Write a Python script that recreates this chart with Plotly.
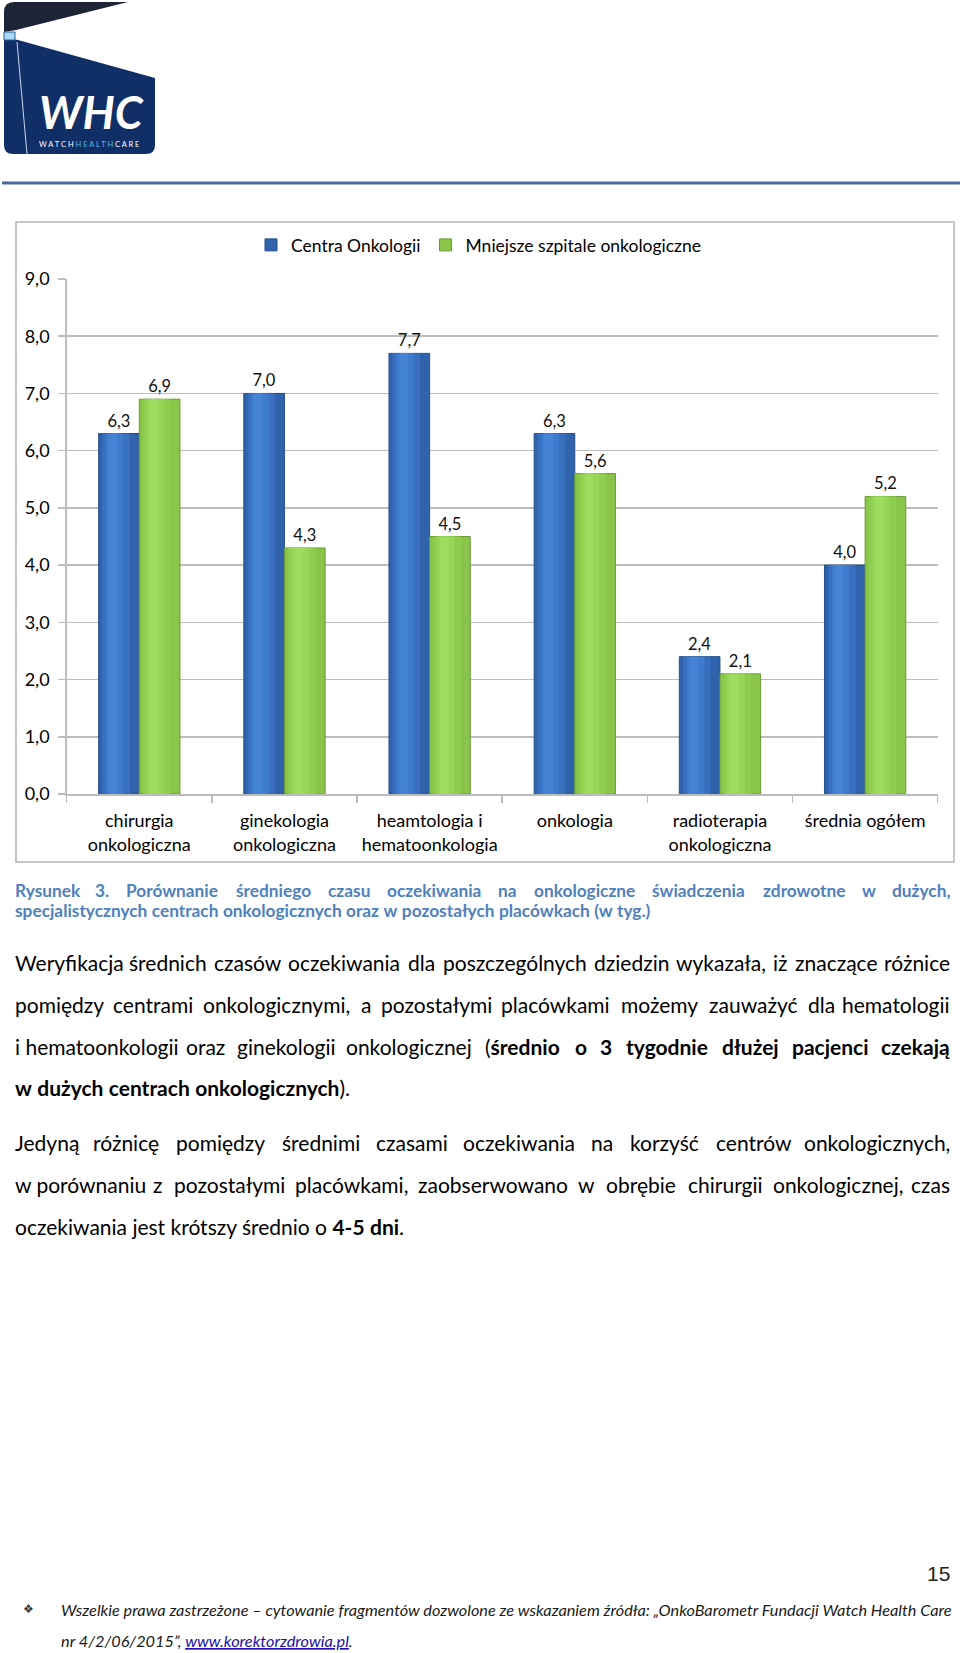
import plotly.graph_objects as go

# ---------------- data ----------------
categories = [
    "chirurgia<br>onkologiczna",
    "ginekologia<br>onkologiczna",
    "heamtologia i<br>hematoonkologia",
    "onkologia",
    "radioterapia<br>onkologiczna",
    "średnia ogółem",
]
series_names = ["Centra Onkologii", "Mniejsze szpitale onkologiczne"]
centra_onkologii = [6.3, 7.0, 7.7, 6.3, 2.4, 4.0]
mniejsze_szpitale = [6.9, 4.3, 4.5, 5.6, 2.1, 5.2]
y_tick_values = [0, 1, 2, 3, 4, 5, 6, 7, 8, 9]

caption_lines = [
    "Rysunek 3. Porównanie średniego czasu oczekiwania na onkologiczne świadczenia zdrowotne w dużych,",
    "specjalistycznych centrach onkologicznych oraz w pozostałych placówkach (w tyg.)",
]
# '*' toggles bold, '~' = non-stretching space; last line of a paragraph is not justified
paragraph1 = [
    "Weryfikacja średnich czasów oczekiwania dla poszczególnych dziedzin wykazała, iż znaczące różnice",
    "pomiędzy centrami onkologicznymi, a pozostałymi placówkami możemy zauważyć dla hematologii",
    "i~hematoonkologii oraz ginekologii onkologicznej (*średnio o 3 tygodnie dłużej pacjenci czekają*",
    "*w dużych centrach onkologicznych*).",
]
paragraph2 = [
    "Jedyną różnicę pomiędzy średnimi czasami oczekiwania na korzyść centrów onkologicznych,",
    "w~porównaniu z pozostałymi placówkami, zaobserwowano w obrębie chirurgii onkologicznej, czas",
    "oczekiwania jest krótszy średnio o *4-5 dni*.",
]
footer_line1 = "Wszelkie prawa zastrzeżone – cytowanie fragmentów dozwolone ze wskazaniem źródła: „OnkoBarometr Fundacji Watch Health Care"
footer_line2_a = "nr 4/2/06/2015”, "
footer_link = "www.korektorzdrowia.pl"
page_number = "15"

# ---------------- helpers ----------------
W, H = 960, 1653
FONT = "Lato"


def px(x):
    return x / W


def py(y):
    return 1 - y / H


def path(cmds):
    out = []
    for c in cmds:
        if c[0] == "Z":
            out.append("Z")
        else:
            s = c[0]
            pts = c[1:]
            for i in range(0, len(pts), 2):
                s += " %.5f,%.5f" % (px(pts[i]), py(pts[i + 1]))
            out.append(s)
    return " ".join(out)


WID = {
    'a': .48, 'b': .555, 'c': .46, 'd': .555, 'e': .515, 'f': .33, 'g': .50, 'h': .555,
    'i': .23, 'j': .235, 'k': .50, 'l': .23, 'm': .84, 'n': .555, 'o': .55, 'p': .555,
    'q': .555, 'r': .37, 's': .415, 't': .36, 'u': .555, 'v': .50, 'w': .75, 'x': .48,
    'y': .50, 'z': .44, ' ': .193, ',': .2, '.': .2, '(': .32, ')': .32, '-': .34,
    'ą': .48, 'ę': .515, 'ó': .55, 'ś': .415, 'ż': .44, 'ź': .44, 'ć': .46, 'ł': .25,
    'ń': .555, 'W': .99, 'J': .37, 'R': .6, 'P': .56, 'O': .77,
}


def tokenize(line):
    words = []
    bold = False
    for tok in line.split(" "):
        segs = []
        cur = ""
        for ch in tok:
            if ch == "*":
                if cur:
                    segs.append((cur, bold))
                cur = ""
                bold = not bold
            else:
                cur += " " if ch == "~" else ch
        if cur:
            segs.append((cur, bold))
        words.append(segs)
    return words


def seg_width(segs, size):
    tot = 0.0
    for t, b in segs:
        f = 1.06 if b else 1.0
        for ch in t:
            tot += WID.get(ch, 0.55 if ch.isdigit() else 0.5) * size * f
    return tot


def seg_html(segs):
    return "".join("<b>%s</b>" % t if b else t for t, b in segs)


annotations = []


def add_text(x, y, text, size, color="#000000", anchor="left", family=FONT, style="normal", weight="normal"):
    annotations.append(dict(
        x=px(x), y=py(y), xref="paper", yref="paper", text=text, showarrow=False,
        xanchor=anchor, yanchor="middle", align="left",
        font=dict(family=family, size=size, color=color, style=style, weight=weight),
    ))


def add_justified(line, y, size, color, x0=13, x1=952, all_bold=False):
    words = tokenize(line)
    if all_bold:
        words = [[(t, True) for t, _ in w] for w in words]
    widths = [seg_width(w, size) for w in words]
    gap = (x1 - x0 - sum(widths)) / (len(words) - 1)
    x = x0
    for i, (w, wd) in enumerate(zip(words, widths)):
        if i == 0:
            add_text(x0, y, seg_html(w), size, color, "left")
        elif i == len(words) - 1:
            add_text(x1, y, seg_html(w), size, color, "right")
        else:
            add_text(x + wd / 2, y, seg_html(w), size, color, "center")
        x += wd + gap


def add_plain(line, y, size, color, x0=13, all_bold=False):
    words = tokenize(line)
    if all_bold:
        words = [[(t, True) for t, _ in w] for w in words]
    add_text(x0, y, " ".join(seg_html(w) for w in words), size, color, "left")


# ---------------- figure ----------------
fig = go.Figure()

BW = 0.28
blue_layers = [("#3163ac", 0.0, BW), ("#386fbe", 0.025, 0.19), ("#3f7bcc", 0.05, 0.12), ("#4584d4", 0.07, 0.06)]
green_layers = [("#88c548", 0.0, BW), ("#8fcd4f", 0.025, 0.19), ("#96d557", 0.05, 0.12), ("#9edc5f", 0.07, 0.06)]

for i, (col, dx, w) in enumerate(blue_layers):
    fig.add_trace(go.Bar(
        x=categories, y=centra_onkologii, name=series_names[0],
        offset=-BW + dx, width=w, showlegend=(i == 0),
        marker=dict(color=col, line=dict(color="#24508f", width=1) if i == 0 else dict(width=0)),
        texttemplate="%{y:.1f}" if i == 0 else None,
        textposition="outside" if i == 0 else "none",
        textfont=dict(family=FONT, size=16.5, color="#111111"),
        constraintext="none", cliponaxis=False, hoverinfo="skip",
    ))
for i, (col, dx, w) in enumerate(green_layers):
    fig.add_trace(go.Bar(
        x=categories, y=mniejsze_szpitale, name=series_names[1],
        offset=0.0 + dx, width=w, showlegend=(i == 0),
        marker=dict(color=col, line=dict(color="#6a9a36", width=1) if i == 0 else dict(width=0)),
        texttemplate="%{y:.1f}" if i == 0 else None,
        textposition="outside" if i == 0 else "none",
        textfont=dict(family=FONT, size=16.5, color="#111111"),
        constraintext="none", cliponaxis=False, hoverinfo="skip",
    ))

GRID = "#bcbcbc"
fig.update_layout(
    width=W, height=H,
    margin=dict(l=0, r=0, t=0, b=0, pad=0, autoexpand=False),
    paper_bgcolor="white", plot_bgcolor="white",
    barmode="overlay",
    separators=", ",
    font=dict(family=FONT, color="#000000"),
    xaxis=dict(
        domain=[px(66.7), px(937.7)], type="category", automargin=False,
        showline=True, linecolor=GRID, linewidth=1.5, tickangle=0,
        ticks="outside", tickson="boundaries", ticklen=7, tickcolor=GRID, tickwidth=1.5,
        tickfont=dict(family=FONT, size=18, color="#000000"),
        ticklabelstandoff=10, showgrid=False, fixedrange=True,
    ),
    yaxis=dict(
        domain=[py(794), py(279)], range=[0, 9], tickvals=y_tick_values, tickformat=".1f",
        automargin=False,
        showline=True, linecolor=GRID, linewidth=1.5,
        ticks="outside", ticklen=7, tickcolor=GRID, tickwidth=1.5,
        showgrid=True, gridcolor=GRID, gridwidth=1.5, zeroline=False,
        tickfont=dict(family=FONT, size=18, color="#000000"),
        ticklabelstandoff=5, fixedrange=True,
    ),
    legend=dict(
        orientation="h", x=px(251), y=py(245), xanchor="left", yanchor="middle",
        font=dict(family=FONT, size=17.5, color="#000000"), bgcolor="rgba(0,0,0,0)",
        traceorder="normal",
    ),
    showlegend=True,
)

shapes = []
# chart border
shapes.append(dict(type="rect", xref="paper", yref="paper", x0=px(16), x1=px(954), y0=py(862), y1=py(222),
                   line=dict(color="#b5b5b5", width=1.5), layer="below"))
# horizontal rule under header
shapes.append(dict(type="line", xref="paper", yref="paper", x0=px(2), x1=px(960), y0=py(183), y1=py(183),
                   line=dict(color="#4a6a9c", width=3)))
# logo: top dark wedge
shapes.append(dict(type="path", xref="paper", yref="paper",
                   path=path([("M", 4, 12), ("Q", 4, 2, 14, 2), ("L", 128, 2), ("L", 16, 30), ("L", 4, 32), ("Z",)]),
                   fillcolor="#1c2436", line=dict(width=0)))
# logo: main body
shapes.append(dict(type="path", xref="paper", yref="paper",
                   path=path([("M", 4, 38), ("L", 18, 40), ("L", 155, 78), ("L", 155, 145),
                              ("Q", 155, 154, 146, 154), ("L", 13, 154), ("Q", 4, 154, 4, 145), ("Z",)]),
                   fillcolor="#0f2f66", line=dict(width=0)))
# lighthouse window
shapes.append(dict(type="rect", xref="paper", yref="paper", x0=px(4), x1=px(15), y0=py(40), y1=py(32),
                   fillcolor="#a9d8f2", line=dict(color="#2a5d9a", width=1)))
# lighthouse outline
shapes.append(dict(type="line", xref="paper", yref="paper", x0=px(17), y0=py(42), x1=px(27), y1=py(154),
                   line=dict(color="#c9d6ea", width=1)))
fig.update_layout(shapes=shapes)

# logo text
add_text(91, 112, "<b><i>WHC</i></b>", 45, "#ffffff", "center", family="Lato", weight="bold")
add_text(89, 144, "W A T C H <span style='color:#5ab6ea'>H E A L T H</span> C A R E", 7.5, "#ffffff", "center")

# caption
CAP = "#4f81bd"
add_justified(caption_lines[0], 890, 17.3, CAP, all_bold=True)
add_plain(caption_lines[1], 911, 17.3, CAP, all_bold=True)

# body paragraphs
BODY_SIZE = 21
for i, (line, y) in enumerate(zip(paragraph1, [962, 1004, 1046, 1087.5])):
    if i < len(paragraph1) - 1:
        add_justified(line, y, BODY_SIZE, "#000000")
    else:
        add_plain(line, y, BODY_SIZE, "#000000")
for i, (line, y) in enumerate(zip(paragraph2, [1142, 1184, 1226])):
    if i < len(paragraph2) - 1:
        add_justified(line, y, BODY_SIZE, "#000000")
    else:
        add_plain(line, y, BODY_SIZE, "#000000")

# footer
add_text(952, 1573, page_number, 21, "#222222", "right", family="Liberation Sans")
add_text(28, 1609, "❖", 12, "#333333", "center", family="DejaVu Sans")
add_text(59, 1609, footer_line1, 16.3, "#1a1a1a", "left", style="italic")
add_text(59, 1640, footer_line2_a + "<span style='color:#1a0dab;text-decoration:underline'>" + footer_link + "</span>.",
         16.3, "#1a1a1a", "left", style="italic")

fig.update_layout(annotations=annotations)

post = (
    "document.documentElement.style.margin='0';document.documentElement.style.overflow='hidden';"
    "document.body.style.margin='0';document.body.style.padding='0';document.body.style.overflow='hidden';"
    "var d=document.getElementById('{plot_id}');d.style.position='absolute';d.style.left='0px';d.style.top='0px';"
)
fig.write_html("out.html", post_script=post, config={"displayModeBar": False, "staticPlot": True})
